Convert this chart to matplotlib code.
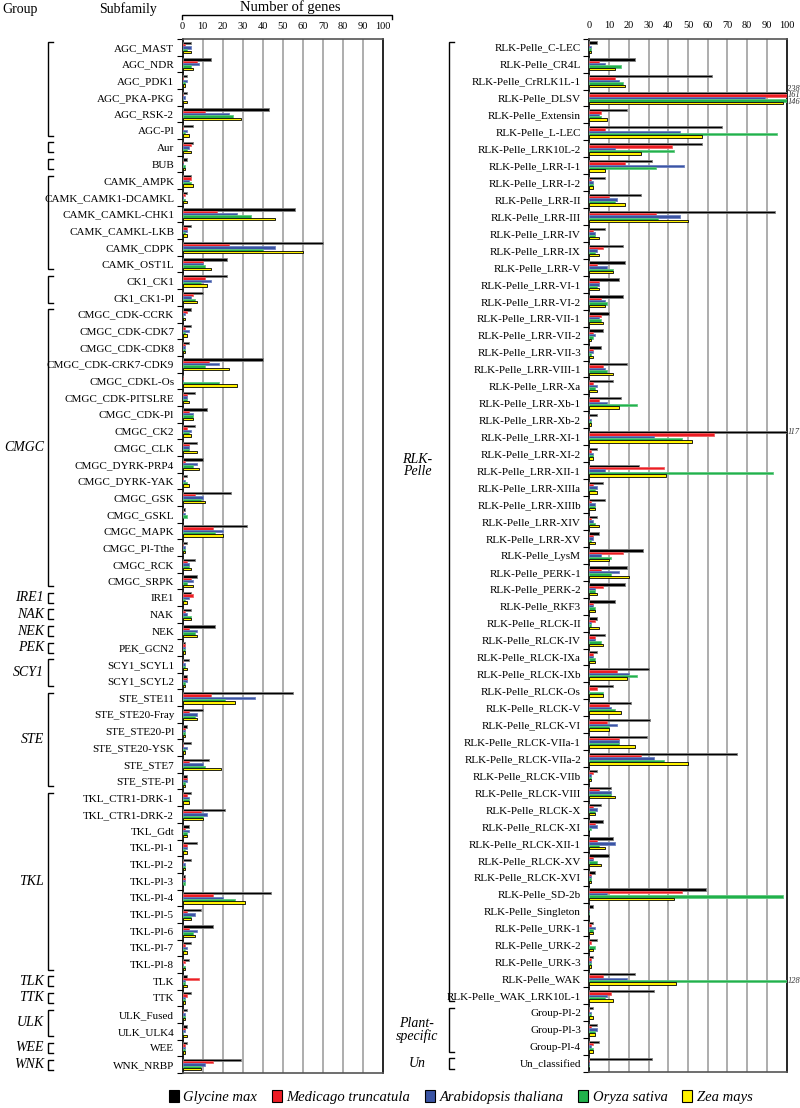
import matplotlib
matplotlib.use('Agg')
import matplotlib.pyplot as plt
import matplotlib.transforms as mtransforms
from matplotlib.patches import Patch
import numpy as np

plt.rcParams['font.family'] = 'Liberation Serif'

species = ['Glycine max', 'Medicago truncatula', 'Arabidopsis thaliana', 'Oryza sativa', 'Zea mays']
colors = ['#000000', '#ed1c24', '#3a54a4', '#21b14b', '#fff200']
edges = ['#808080', '#f06060', '#6b80c0', '#60c880', '#000000']

# ---- left panel ----
left_labels = ['AGC_MAST', 'AGC_NDR', 'AGC_PDK1', 'AGC_PKA-PKG', 'AGC_RSK-2', 'AGC-Pl', 'Aur', 'BUB',
               'CAMK_AMPK', 'CAMK_CAMK1-DCAMKL', 'CAMK_CAMKL-CHK1', 'CAMK_CAMKL-LKB', 'CAMK_CDPK',
               'CAMK_OST1L', 'CK1_CK1', 'CK1_CK1-Pl', 'CMGC_CDK-CCRK', 'CMGC_CDK-CDK7', 'CMGC_CDK-CDK8',
               'CMGC_CDK-CRK7-CDK9', 'CMGC_CDKL-Os', 'CMGC_CDK-PITSLRE', 'CMGC_CDK-Pl', 'CMGC_CK2',
               'CMGC_CLK', 'CMGC_DYRK-PRP4', 'CMGC_DYRK-YAK', 'CMGC_GSK', 'CMGC_GSKL', 'CMGC_MAPK',
               'CMGC_Pl-Tthe', 'CMGC_RCK', 'CMGC_SRPK', 'IRE1', 'NAK', 'NEK', 'PEK_GCN2', 'SCY1_SCYL1',
               'SCY1_SCYL2', 'STE_STE11', 'STE_STE20-Fray', 'STE_STE20-Pl', 'STE_STE20-YSK', 'STE_STE7',
               'STE_STE-Pl', 'TKL_CTR1-DRK-1', 'TKL_CTR1-DRK-2', 'TKL_Gdt', 'TKL-Pl-1', 'TKL-Pl-2',
               'TKL-Pl-3', 'TKL-Pl-4', 'TKL-Pl-5', 'TKL-Pl-6', 'TKL-Pl-7', 'TKL-Pl-8', 'TLK', 'TTK',
               'ULK_Fused', 'ULK_ULK4', 'WEE', 'WNK_NRBP']
left_gm = [4, 14, 2, 2, 43, 5, 5, 2, 4, 2, 56, 4, 70, 22, 22, 10, 4, 4, 3, 40, 0, 6, 12, 6, 7, 10, 2, 24, 1, 32,
           2, 6, 7, 4, 4, 16, 1, 3, 2, 55, 10, 2, 4, 13, 2, 4, 21, 3, 7, 4, 1, 44, 9, 15, 4, 3, 2, 4, 2, 2, 2, 29]
left_mt = [1, 7, 0, 0, 11, 0, 4, 0, 4, 1, 17, 2, 23, 10, 11, 5, 2, 1, 1, 13, 0, 2, 3, 2, 3, 1, 0, 6, 0, 15,
           0, 2, 4, 5, 1, 3, 1, 0, 2, 14, 3, 1, 0, 3, 2, 2, 9, 1, 2, 0, 1, 15, 2, 3, 1, 1, 8, 2, 0, 1, 1, 15]
left_at = [4, 8, 2, 1, 23, 2, 3, 0, 3, 0, 27, 2, 46, 10, 14, 4, 1, 3, 1, 18, 0, 2, 5, 4, 3, 7, 1, 10, 1, 20,
           1, 3, 5, 3, 2, 7, 1, 1, 2, 36, 7, 1, 2, 10, 2, 3, 12, 3, 2, 1, 1, 20, 6, 7, 2, 0, 1, 1, 1, 1, 1, 11]
left_os = [2, 4, 1, 0, 25, 1, 2, 1, 4, 1, 34, 1, 40, 11, 9, 6, 0, 1, 1, 11, 18, 2, 5, 3, 3, 5, 2, 9, 2, 16,
           1, 3, 2, 1, 4, 6, 1, 1, 1, 21, 6, 1, 1, 11, 1, 3, 10, 2, 1, 1, 1, 26, 4, 5, 1, 1, 1, 1, 1, 0, 1, 9]
left_zm = [4, 5, 1, 2, 29, 3, 4, 1, 5, 2, 46, 2, 60, 14, 12, 7, 1, 2, 1, 23, 27, 3, 5, 4, 7, 8, 3, 11, 0, 20,
           1, 4, 5, 2, 4, 7, 1, 2, 1, 26, 7, 1, 1, 19, 1, 3, 10, 2, 2, 1, 0, 31, 4, 6, 2, 1, 2, 1, 1, 2, 1, 9]

# ---- right panel ----
rlk_names = ['C-LEC', 'CR4L', 'CrRLK1L-1', 'DLSV', 'Extensin', 'L-LEC', 'LRK10L-2', 'LRR-I-1', 'LRR-I-2',
             'LRR-II', 'LRR-III', 'LRR-IV', 'LRR-IX', 'LRR-V', 'LRR-VI-1', 'LRR-VI-2', 'LRR-VII-1',
             'LRR-VII-2', 'LRR-VII-3', 'LRR-VIII-1', 'LRR-Xa', 'LRR-Xb-1', 'LRR-Xb-2', 'LRR-XI-1',
             'LRR-XI-2', 'LRR-XII-1', 'LRR-XIIIa', 'LRR-XIIIb', 'LRR-XIV', 'LRR-XV', 'LysM', 'PERK-1',
             'PERK-2', 'RKF3', 'RLCK-II', 'RLCK-IV', 'RLCK-IXa', 'RLCK-IXb', 'RLCK-Os', 'RLCK-V', 'RLCK-VI',
             'RLCK-VIIa-1', 'RLCK-VIIa-2', 'RLCK-VIIb', 'RLCK-VIII', 'RLCK-X', 'RLCK-XI', 'RLCK-XII-1',
             'RLCK-XV', 'RLCK-XVI', 'SD-2b', 'Singleton', 'URK-1', 'URK-2', 'URK-3', 'WAK', 'WAK_LRK10L-1']
right_labels = ['RLK-Pelle_' + s for s in rlk_names] + ['Group-Pl-2', 'Group-Pl-3', 'Group-Pl-4', 'Un_classified']
right_gm = [4, 23, 62, 238, 19, 67, 57, 32, 8, 26, 94, 8, 17, 18, 15, 17, 10, 7, 6, 19, 12, 16, 4, 117, 4, 25,
            7, 8, 4, 5, 27, 19, 18, 13, 4, 8, 4, 30, 12, 21, 31, 29, 75, 4, 11, 6, 7, 12, 10, 3, 59, 2, 2, 4,
            2, 23, 33, 2, 4, 5, 32]
right_mt = [0, 5, 13, 161, 6, 8, 42, 18, 1, 10, 34, 2, 7, 4, 5, 6, 6, 2, 2, 7, 2, 5, 0, 63, 1, 38,
            2, 1, 1, 2, 17, 6, 7, 2, 3, 3, 2, 14, 4, 10, 9, 15, 26, 2, 5, 2, 3, 4, 2, 1, 47, 0, 1, 1,
            1, 7, 11, 0, 1, 2, 0]
right_at = [1, 8, 15, 89, 5, 46, 13, 48, 2, 14, 46, 3, 4, 9, 5, 8, 5, 3, 2, 8, 4, 9, 1, 33, 2, 8,
            4, 3, 2, 2, 6, 15, 3, 2, 1, 3, 2, 20, 0, 11, 14, 15, 33, 1, 11, 4, 4, 13, 2, 1, 9, 0, 3, 0,
            1, 19, 9, 1, 4, 1, 0]
right_os = [1, 16, 17, 146, 6, 95, 43, 34, 2, 13, 35, 3, 3, 12, 4, 9, 6, 2, 1, 9, 3, 24, 1, 47, 2, 93,
            3, 3, 3, 1, 11, 11, 3, 3, 1, 6, 3, 24, 7, 13, 10, 15, 38, 1, 11, 3, 1, 5, 4, 1, 98, 0, 2, 3,
            1, 128, 8, 1, 3, 2, 0]
right_zm = [1, 13, 18, 98, 9, 57, 26, 8, 2, 18, 50, 5, 5, 12, 5, 8, 7, 1, 2, 12, 4, 15, 1, 52, 2, 39,
            4, 3, 5, 3, 10, 20, 4, 3, 5, 7, 3, 19, 7, 16, 10, 23, 50, 1, 13, 3, 0, 8, 6, 1, 43, 0, 2, 2,
            1, 44, 12, 2, 3, 2, 0]

left_groups = [(0, 5, ''), (6, 6, ''), (7, 7, ''), (8, 13, ''), (14, 15, ''), (16, 32, 'CMGC'),
               (33, 33, 'IRE1'), (34, 34, 'NAK'), (35, 35, 'NEK'), (36, 36, 'PEK'), (37, 38, 'SCY1'),
               (39, 44, 'STE'), (45, 55, 'TKL'), (56, 56, 'TLK'), (57, 57, 'TTK'), (58, 59, 'ULK'),
               (60, 60, 'WEE'), (61, 61, 'WNK')]
right_groups = [(0, 56, 'RLK-\nPelle'), (57, 59, 'Plant-\nspecific'), (60, 60, 'Un')]

W, H = 800, 1108
fig = plt.figure(figsize=(W / 100, H / 100), dpi=100)


def px_axes(x0, y0, x1, y1):
    return fig.add_axes([x0 / W, 1 - y1 / H, (x1 - x0) / W, (y1 - y0) / H])


def draw_panel(ax, labels, series):
    n = len(labels)
    y = np.arange(n)
    h = 0.14
    for k, vals in enumerate(series):
        ax.barh(y + (k - 2) * h, vals, height=h, color=colors[k], edgecolor=edges[k],
                linewidth=0.6, zorder=3)
        # values that run past 100
        for i, v in enumerate(vals):
            if v > 100:
                over = [kk for kk in range(5) if series[kk][i] > 100]
                if len(over) == 1:
                    yy = i + (k - 2) * h
                else:
                    yy = i - 0.55 + 0.4 * over.index(k)
                ax.text(100.4, yy, str(v), fontsize=6, style='italic', color='#333333',
                        va='center', ha='left', clip_on=False)
    ax.set_xlim(0, 100)
    ax.set_ylim(n - 0.5, -0.5)
    ax.set_yticks(y)
    ax.set_yticklabels(labels, fontsize=8)
    ax.set_yticks(np.arange(n + 1) - 0.5, minor=True)
    ax.tick_params(axis='y', which='major', length=0, pad=6)
    ax.tick_params(axis='y', which='minor', length=4, width=0.8, direction='out')
    ax.xaxis.tick_top()
    ax.set_xticks(range(0, 101, 10))
    ax.tick_params(axis='x', length=0, labelsize=7.5, pad=6)
    for xv in range(10, 100, 10):
        ax.axvline(xv, color='#a0a0a0', lw=1.2, zorder=1)
    for s in ['left', 'right']:
        ax.spines[s].set_linewidth(1.2)
        ax.spines[s].set_color('black')
    for s in ['top', 'bottom']:
        ax.spines[s].set_linewidth(1.2)
        ax.spines[s].set_color('#555555')


def draw_brackets(ax, groups, xb, xlab, ha, label_y=None):
    tr = mtransforms.blended_transform_factory(fig.transFigure, ax.transData)
    xa, xt = xb / W, (xb + 5) / W
    for i0, i1, name in groups:
        y0, y1 = i0 - 0.3, i1 + 0.3
        ax.plot([xt, xa, xa, xt], [y0, y0, y1, y1], transform=tr, clip_on=False,
                color='black', lw=1.0, solid_joinstyle='miter')
        if name:
            yl = (i0 + i1) / 2
            if label_y and name in label_y:
                yl = label_y[name]
            ax.text(xlab / W, yl, name, transform=tr, style='italic', fontsize=10,
                    ha=ha, va='center', linespacing=0.95)


ax_l = px_axes(182.5, 39, 383.3, 1073)
ax_r = px_axes(589.3, 38.7, 786.7, 1072)

draw_panel(ax_l, left_labels, [left_gm, left_mt, left_at, left_os, left_zm])
draw_panel(ax_r, right_labels, [right_gm, right_mt, right_at, right_os, right_zm])

draw_brackets(ax_l, left_groups, 48, 44, 'right')
draw_brackets(ax_r, right_groups, 449, 417, 'center', label_y={'RLK-\nPelle': 24.7})

# headers
fig.text(20 / W, 1 - 9 / H, 'Group', fontsize=10, ha='center', va='center')
fig.text(128 / W, 1 - 9 / H, 'Subfamily', fontsize=10, ha='center', va='center')
fig.text(290 / W, 1 - 7 / H, 'Number of genes', fontsize=10.5, ha='center', va='center')
fig.add_artist(plt.Line2D([182 / W, 182 / W, 392 / W, 392 / W],
                          [1 - 19 / H, 1 - 15 / H, 1 - 15 / H, 1 - 19 / H],
                          color='black', lw=1))

handles = [Patch(facecolor=c, edgecolor='black', linewidth=0.8) for c in colors]
fig.legend(handles, species, loc='center', bbox_to_anchor=(0.576, 0.01), ncol=5, frameon=False,
           prop={'style': 'italic', 'size': 10.5}, handlelength=0.7, handleheight=0.9,
           handletextpad=0.3, columnspacing=1.0)

fig.savefig('out.png', dpi=100)
